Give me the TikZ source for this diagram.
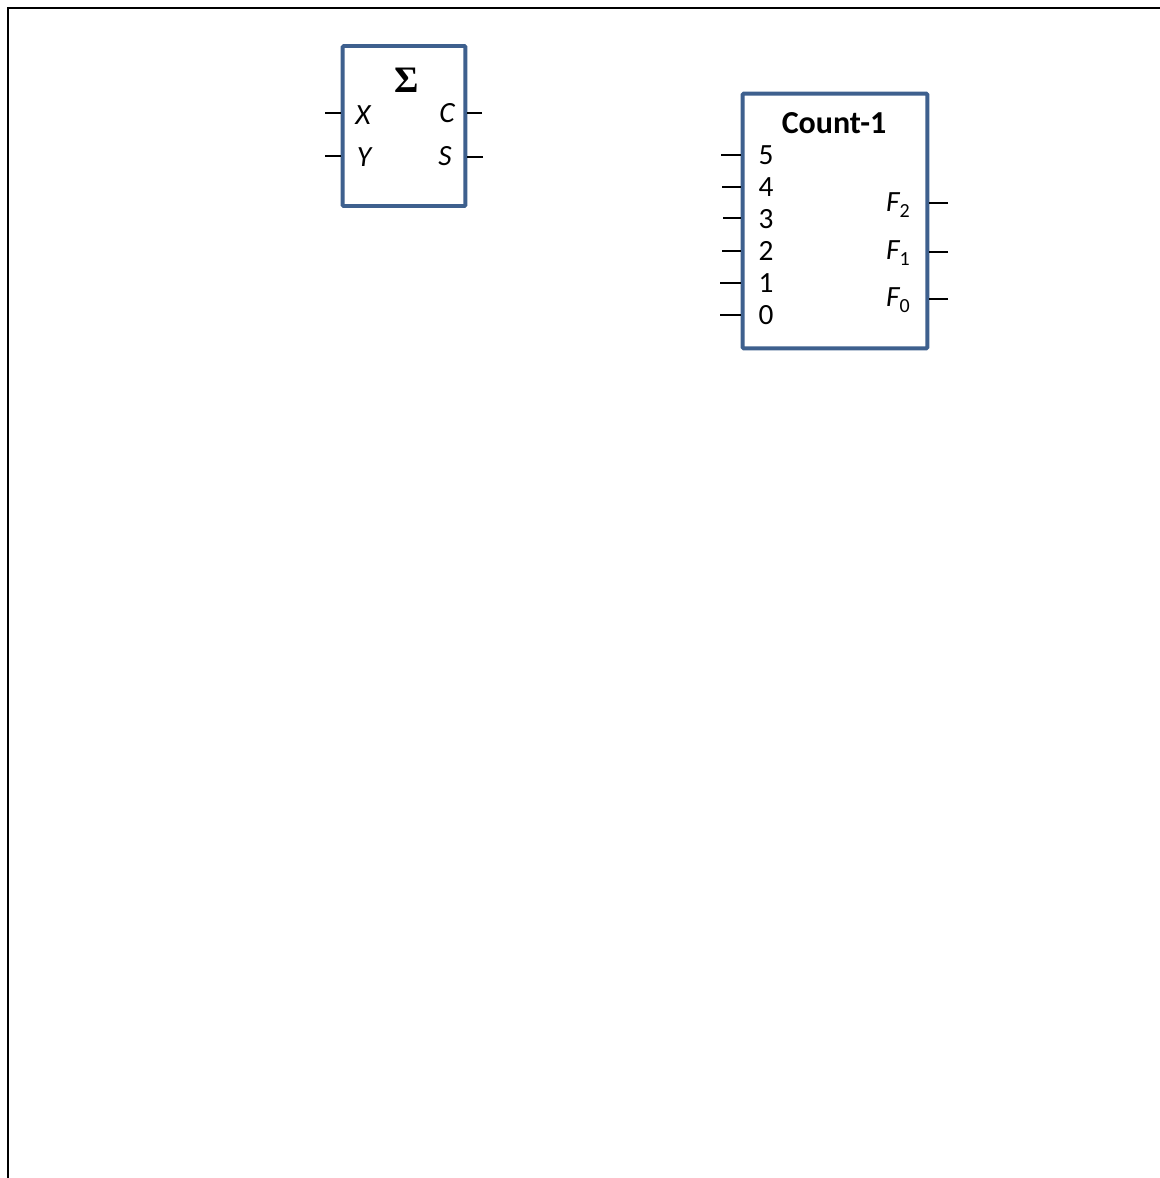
\documentclass[tikz,border=0pt]{standalone}
\usepackage{fontspec}
\setmainfont{Carlito}
\newfontfamily\sigmafont{Liberation Serif}
\usetikzlibrary{positioning, calc}

\begin{document}
\begin{tikzpicture}[
    x=0.75pt, y=-0.75pt,
    block/.style={rectangle, draw=blockblue, line width=2.9pt, rounded corners=0.8pt, inner sep=0pt},
    pinlabel/.style={inner sep=0pt, font=\fontsize{22}{24}\selectfont},
    funclabel/.style={inner sep=0pt, font=\fontsize{22}{24}\selectfont\itshape},
    wire/.style={line width=1.2pt, black},
    frameline/.style={line width=1.5pt, black}
]
\definecolor{blockblue}{RGB}{62,96,142}
\useasboundingbox (0,0) rectangle (1160,1178);

% outer frame
\coordinate (framebl) at (8,1178);
\coordinate (frametl) at (8,8);
\coordinate (frametr) at (1160,8);
\draw [frameline] (framebl) -- (frametl) -- (frametr);

% adder
\node (adder) [block, minimum width=92pt, minimum height=120pt] at (404,126) {};
\node (sigma) [inner sep=0pt, font=\fontsize{28}{30}\sigmafont\bfseries] at (407,80) {Σ};
\node (x) [funclabel] at (363,115.5) {X};
\node (y) [funclabel] at (364,157.5) {Y};
\node (c) [funclabel] at (447,113) {C};
\node (s) [funclabel] at (445,156.5) {S};
\coordinate (xin) at (325,113);
\coordinate (yin) at (325,156);
\coordinate (cout) at (482,113);
\coordinate (sout) at (483,157);
\draw [wire] (xin) -- (xin -| adder.west);
\draw [wire] (yin) -- (yin -| adder.west);
\draw [wire] (cout) -- (cout -| adder.east);
\draw [wire] (sout) -- (sout -| adder.east);

% counter
\node (count) [block, minimum width=138.5pt, minimum height=191pt] at (835,221) {};
\node (title) [inner sep=0pt, font=\fontsize{24}{26}\selectfont\bfseries] at (834,123.5) {Count-1};
\foreach \n/\ya/\yb/\xa in {5/155.5/155/721, 4/187/187/722, 3/219.5/218/723, 2/251/251/722, 1/283.5/283/720, 0/315.5/315/720} {
    \node (in\n) [pinlabel] at (766,\ya) {\n};
    \coordinate (pin\n) at (\xa,\yb);
    \draw [wire] (pin\n) -- (pin\n -| count.west);
}
\foreach \n/\ya/\yb in {2/205/203, 1/253/252, 0/300/299} {
    \node (f\n) [funclabel] at (898,\ya) {F\raisebox{-0.2em}{\fontsize{15}{16}\selectfont\upshape\n}};
    \coordinate (pout\n) at (948,\yb);
    \draw [wire] (pout\n) -- (pout\n -| count.east);
}
\end{tikzpicture}
\end{document}
